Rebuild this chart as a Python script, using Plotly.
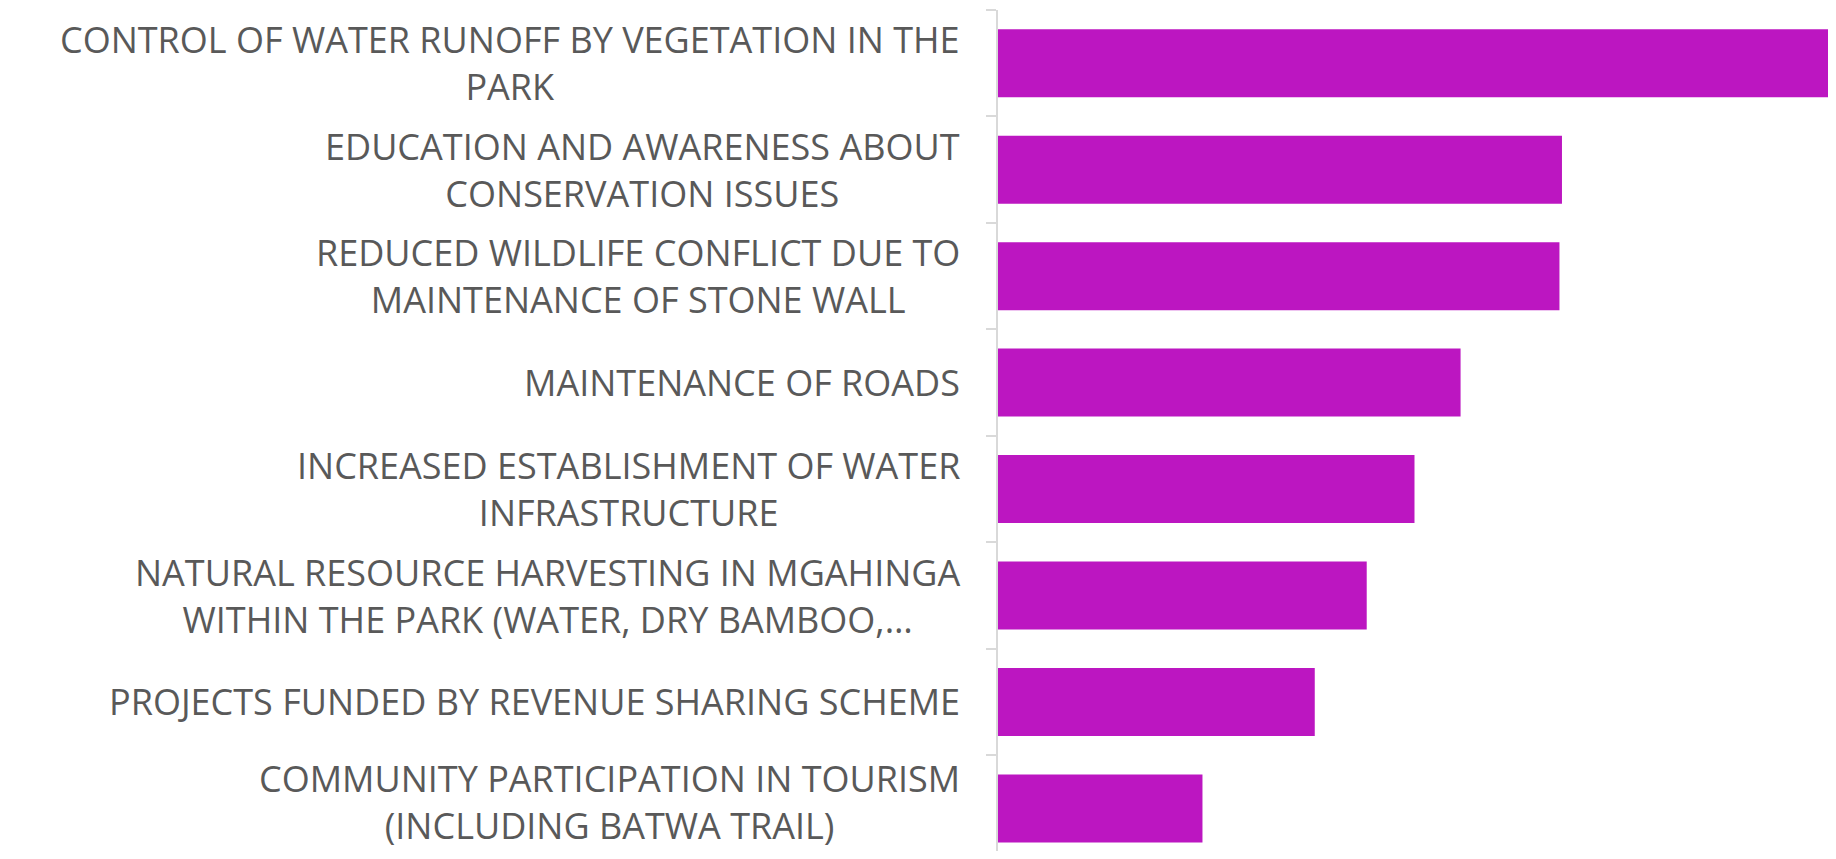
import plotly.graph_objects as go

categories = [
    "CONTROL OF WATER RUNOFF BY VEGETATION IN THE<br>PARK",
    "EDUCATION AND AWARENESS ABOUT<br>CONSERVATION ISSUES",
    "REDUCED WILDLIFE CONFLICT DUE TO<br>MAINTENANCE OF STONE WALL",
    "MAINTENANCE OF ROADS",
    "INCREASED ESTABLISHMENT OF WATER<br>INFRASTRUCTURE",
    "NATURAL RESOURCE HARVESTING IN MGAHINGA<br>WITHIN THE PARK (WATER, DRY BAMBOO,…",
    "PROJECTS FUNDED BY REVENUE SHARING SCHEME",
    "COMMUNITY PARTICIPATION IN TOURISM<br>(INCLUDING BATWA TRAIL)",
]
values = [105, 67.3, 67.0, 55.2, 49.7, 44.0, 37.8, 24.4]
x_range = [0, 100]

BAR_COLOR = "#BC16C1"
TEXT_COLOR = "#595959"
AXIS_COLOR = "#D9D9D9"
FONT = "Open Sans"

fig = go.Figure(
    go.Bar(
        x=values,
        y=categories,
        orientation="h",
        marker=dict(color=BAR_COLOR, line=dict(width=0)),
        hoverinfo="x+y",
    )
)

annotations = []
for i, c in enumerate(categories):
    annotations.append(
        dict(
            x=0, xref="paper", y=c, yref="y",
            text=c, showarrow=False,
            xanchor="right", yanchor="middle", align="center",
            xshift=-38,
            yshift=6 if i == len(categories) - 1 else 0,
            borderpad=0, borderwidth=0,
            font=dict(family=FONT, size=36, color=TEXT_COLOR),
        )
    )

fig.update_layout(
    width=1828,
    height=843,
    margin=dict(l=990, r=0, t=2, b=0),
    paper_bgcolor="white",
    plot_bgcolor="white",
    bargap=0.361,
    showlegend=False,
    annotations=annotations,
    xaxis=dict(
        range=x_range,
        showgrid=False,
        zeroline=False,
        showticklabels=False,
        showline=False,
        ticks="",
    ),
    yaxis=dict(
        range=[len(categories) - 0.6, -0.5],
        type="category",
        showgrid=False,
        zeroline=False,
        showline=True,
        linecolor=AXIS_COLOR,
        linewidth=1.5,
        ticks="outside",
        tickson="boundaries",
        ticklen=10,
        tickcolor=AXIS_COLOR,
        tickwidth=1.5,
        showticklabels=False,
    ),
)

fig.write_html("out.html")
